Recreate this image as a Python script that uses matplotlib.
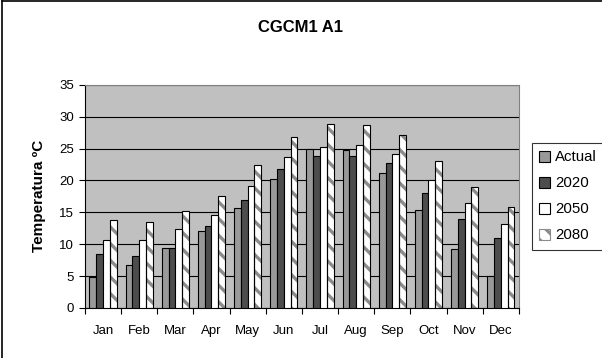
import numpy as np
import matplotlib.pyplot as plt
from matplotlib.lines import Line2D

plt.rcParams["font.family"] = ["Liberation Sans", "DejaVu Sans"]
plt.rcParams["hatch.linewidth"] = 2.4

MONTHS = ["Jan", "Feb", "Mar", "Apr", "May", "Jun",
          "Jul", "Aug", "Sep", "Oct", "Nov", "Dec"]

actual = [4.8, 6.8, 9.4, 12.1, 15.7, 20.3, 24.9, 24.7, 21.1, 15.3, 9.2, 5.0]
y2020 = [8.4, 8.2, 9.4, 12.8, 16.9, 21.8, 23.8, 23.9, 22.8, 18.0, 14.0, 10.9]
y2050 = [10.7, 10.7, 12.3, 14.6, 19.2, 23.6, 25.3, 25.5, 24.1, 20.1, 16.5, 13.2]
y2080 = [13.8, 13.5, 15.2, 17.6, 22.4, 26.8, 28.9, 28.7, 27.2, 23.0, 19.0, 15.9]

SERIES = [
    ("Actual", actual, "#999999", None),
    ("2020", y2020, "#4d4d4d", None),
    ("2050", y2050, "#ffffff", None),
    ("2080", y2080, "#ffffff", "\\\\"),
]

fig = plt.figure(figsize=(6.02, 3.58), dpi=100)
ax = fig.add_axes([0.141, 0.140, 0.721, 0.623])
ax.set_facecolor("#c0c0c0")

x = np.arange(len(MONTHS))
w = 0.1875
for i, (name, vals, color, hatch) in enumerate(SERIES):
    pos = x + (i - 1.5) * w
    if hatch:
        ax.bar(pos, vals, w, color=color, edgecolor="#8c8c8c", hatch=hatch,
               linewidth=0, zorder=2)
        ax.bar(pos, vals, w, fill=False, edgecolor="black", linewidth=0.8,
               zorder=3)
    else:
        ax.bar(pos, vals, w, color=color, edgecolor="black", linewidth=0.8,
               zorder=3)

ax.set_xlim(-0.5, 11.5)
ax.set_ylim(0, 35)
ax.set_yticks(range(0, 36, 5))
ax.yaxis.grid(True, color="black", linewidth=0.8, zorder=1)
ax.set_axisbelow(True)

ax.set_xticks(x)
ax.set_xticklabels(MONTHS)
ax.set_xticks(np.arange(-0.5, 12.0, 1), minor=True)
ax.tick_params(axis="x", which="major", length=0, pad=12, labelsize=9.5)
ax.tick_params(axis="x", which="minor", length=4, width=0.8, direction="out")
ax.tick_params(axis="y", length=4, width=0.8, pad=4, labelsize=9.5)

for side in ["top", "right"]:
    ax.spines[side].set_color("#808080")
    ax.spines[side].set_linewidth(0.8)
for side in ["left", "bottom"]:
    ax.spines[side].set_color("black")
    ax.spines[side].set_linewidth(0.8)

ax.set_ylabel("Temperatura ºC", fontsize=11, fontweight="bold", labelpad=9)
fig.text(0.5, 0.923, "CGCM1 A1", ha="center", va="center",
         fontsize=12, fontweight="bold")

# legend
handles = []
for name, vals, color, hatch in SERIES:
    handles.append(plt.Rectangle((0, 0), 1, 1, facecolor=color,
                                 edgecolor="#8c8c8c" if hatch else "black",
                                 hatch=hatch, linewidth=0.8))
leg = fig.legend(handles, [s[0] for s in SERIES], loc="upper left",
                 bbox_to_anchor=(0.883, 0.601), fontsize=10.8, frameon=True,
                 fancybox=False, handlelength=0.75, handleheight=0.75,
                 handletextpad=0.3, labelspacing=0.8, borderpad=0.5,
                 borderaxespad=0)
leg.get_frame().set_edgecolor("black")
leg.get_frame().set_linewidth(0.8)

# outer chart border (left and top edges visible)
fig.add_artist(Line2D([0.004, 0.004], [0, 0.997], color="black", linewidth=1.2))
fig.add_artist(Line2D([0.004, 1], [0.997, 0.997], color="black", linewidth=1.2))

fig.savefig("out.png", dpi=100)
